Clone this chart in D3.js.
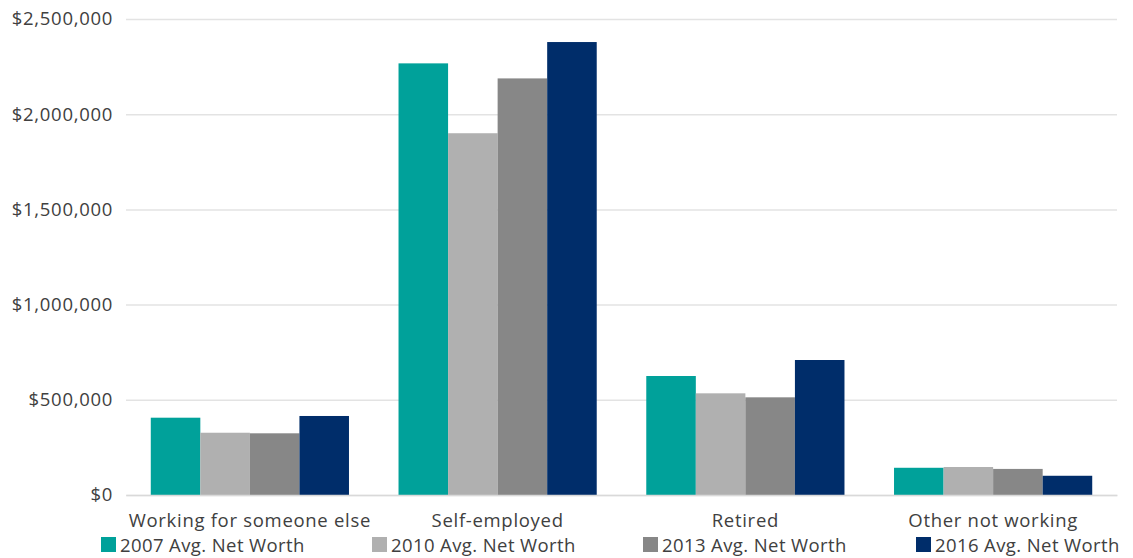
<!DOCTYPE html>
<html><head><meta charset="utf-8">
<script src="https://cdn.jsdelivr.net/npm/d3@7"></script>
<style>body{margin:0;background:#fff}svg{display:block}text{font-family:"Open Sans",sans-serif;fill:#404040;letter-spacing:0.7px}</style>
</head><body>
<script>
const categories = ["Working for someone else","Self-employed","Retired","Other not working"];
const seriesNames = ["2007 Avg. Net Worth","2010 Avg. Net Worth","2013 Avg. Net Worth","2016 Avg. Net Worth"];
const v2007 = [406000, 2267000, 625000, 143000];
const v2010 = [327000, 1900000, 534000, 147000];
const v2013 = [324000, 2188000, 513000, 137000];
const v2016 = [415000, 2379000, 709000, 101000];
const yTicks = [0, 500000, 1000000, 1500000, 2000000, 2500000];
const colors = ["#00A19A","#B0B0B0","#878787","#002D6A"];
const series = [v2007, v2010, v2013, v2016];

const W = 1133, H = 558;
const m = {left:126, right:16, top:19, bottom:63};
const svg = d3.select("body").append("svg").attr("width", W).attr("height", H);
const x = d3.scaleBand().domain(categories).range([m.left, W - m.right]).paddingInner(0.2).paddingOuter(0.1);
const xs = d3.scaleBand().domain(seriesNames).range([0, x.bandwidth()]);
const y = d3.scaleLinear().domain([0, 2500000]).range([H - m.bottom, m.top]);
const fmt = d => "$" + d3.format(",")(d);
const fs = "18.5px";

const yAxis = svg.append("g").attr("transform", `translate(${m.left},0)`)
  .call(d3.axisLeft(y).tickValues(yTicks).tickFormat(fmt).tickSize(-(W - m.left - m.right)).tickPadding(13));
yAxis.select(".domain").remove();
yAxis.selectAll(".tick line").attr("stroke", "#e3e3e3").attr("stroke-width", 1.5);
yAxis.selectAll(".tick text").style("font-size", fs).style("fill", "#404040");

const groups = svg.append("g").selectAll("g").data(categories).join("g")
  .attr("transform", d => `translate(${x(d)},0)`);
groups.selectAll("rect").data((c, i) => seriesNames.map((s, j) => ({s, j, v: series[j][i]}))).join("rect")
  .attr("x", d => xs(d.s)).attr("width", xs.bandwidth())
  .attr("y", d => y(d.v)).attr("height", d => y(0) - y(d.v))
  .attr("fill", d => colors[d.j]);

const xAxis = svg.append("g").attr("transform", `translate(0,${y(0)})`)
  .call(d3.axisBottom(x).tickSize(0).tickPadding(19));
xAxis.select(".domain").attr("stroke", "#d9d9d9").attr("stroke-width", 1.5);
xAxis.selectAll(".tick text").style("font-size", fs).style("fill", "#404040");

const legendX = [101, 372, 643, 916];
const lg = svg.append("g").selectAll("g").data(seriesNames).join("g")
  .attr("transform", (d, i) => `translate(${legendX[i]},537)`);
lg.append("rect").attr("width", 15).attr("height", 15).attr("fill", (d, i) => colors[i]);
lg.append("text").attr("x", 19).attr("y", 15).style("font-size", fs).style("letter-spacing", "0.4px").text(d => d);
</script>
</body></html>
